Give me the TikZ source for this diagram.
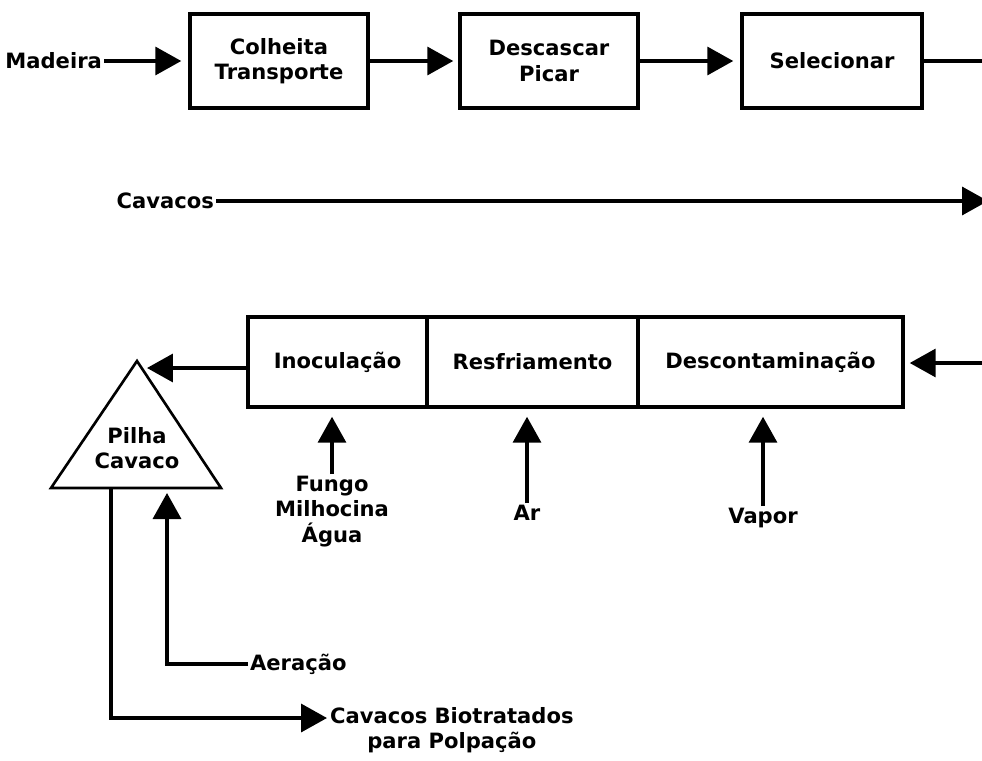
\documentclass[tikz,border=0pt]{standalone}
\usepackage{fontspec}
\setmainfont{DejaVu Sans}
\usetikzlibrary{arrows.meta}

\begin{document}
\begin{tikzpicture}[x=0.02cm, y=-0.02cm,
    every node/.style={font=\fontsize{12}{14.5}\selectfont\bfseries, inner sep=1pt},
    box/.style={draw, line width=2pt, minimum height=1.88cm, align=center, inner sep=0pt},
    arr/.style={line width=2pt, -{Triangle[length=0.52cm,width=0.56cm]}}]
    \useasboundingbox (0,0) rectangle (982,760);
    % top row
    \node[anchor=east] (madeira) at (104,61) {Madeira};
    \node[box, minimum width=3.56cm] (colheita) at (279,61) {Colheita\\Transporte};
    \node[box, minimum width=3.56cm] (descascar) at (549,61) {Descascar\\Picar};
    \node[box, minimum width=3.6cm] (selecionar) at (832,61) {Selecionar};
    \coordinate (selOut) at (982,61);
    \draw[arr, shorten >=0.14cm] (madeira.east) -- (colheita.west);
    \draw[arr, shorten >=0.1cm] (colheita.east) -- (descascar.west);
    \draw[arr, shorten >=0.14cm] (descascar.east) -- (selecionar.west);
    \draw[line width=2pt] (selecionar.east) -- (selOut);
    % middle
    \node[anchor=east] (cavacos) at (216,201) {Cavacos};
    \coordinate (cavOut) at (988,201);
    \draw[arr] (cavacos.east) -- (cavOut);
    % bottom row
    \node[box, minimum width=3.58cm, minimum height=1.8cm] (inoc) at (337.5,362) {Inoculação};
    \node[box, minimum width=4.22cm, minimum height=1.8cm] (resf) at (532.5,362) {Resfriamento};
    \node[box, minimum width=5.3cm, minimum height=1.8cm] (descont) at (770.5,362) {Descontaminação};
    \coordinate (inRight) at (982,363);
    \draw[arr, shorten >=0.1cm] (inRight) -- (inRight -| descont.east);
    % pile
    \coordinate (pileTop) at (137,361);
    \coordinate (pileLeft) at (51,488);
    \coordinate (pileRight) at (221,488);
    \draw[line width=1.5pt] (pileTop) -- (pileLeft) -- (pileRight) -- cycle;
    \node[align=center] (pilha) at (137,448) {Pilha\\Cavaco};
    \coordinate (pileIn) at (147,368);
    \draw[arr] (inoc.west |- pileIn) -- (pileIn);
    % inputs
    \node[align=center, anchor=north] (fungo) at (332,474) {Fungo\\Milhocina\\Água};
    \node[anchor=north] (ar) at (527,503) {Ar};
    \node[anchor=north] (vapor) at (763,506) {Vapor};
    \draw[arr, shorten >=0.16cm] (fungo.north) -- (fungo.north |- inoc.south);
    \draw[arr, shorten >=0.16cm] (ar.north) -- (ar.north |- resf.south);
    \draw[arr, shorten >=0.16cm] (vapor.north) -- (vapor.north |- descont.south);
    % aeration and output
    \node[anchor=west] (aeracao) at (248,664) {Aeração};
    \coordinate (aerIn) at (167,493);
    \draw[arr] (aeracao.west) -| (aerIn);
    \node[align=center, anchor=west] (bio) at (328,730) {Cavacos Biotratados\\para Polpação};
    \coordinate (pileOut) at (111,488);
    \coordinate (bioIn) at (327,718);
    \draw[arr] (pileOut) |- (bioIn);
\end{tikzpicture}
\end{document}
